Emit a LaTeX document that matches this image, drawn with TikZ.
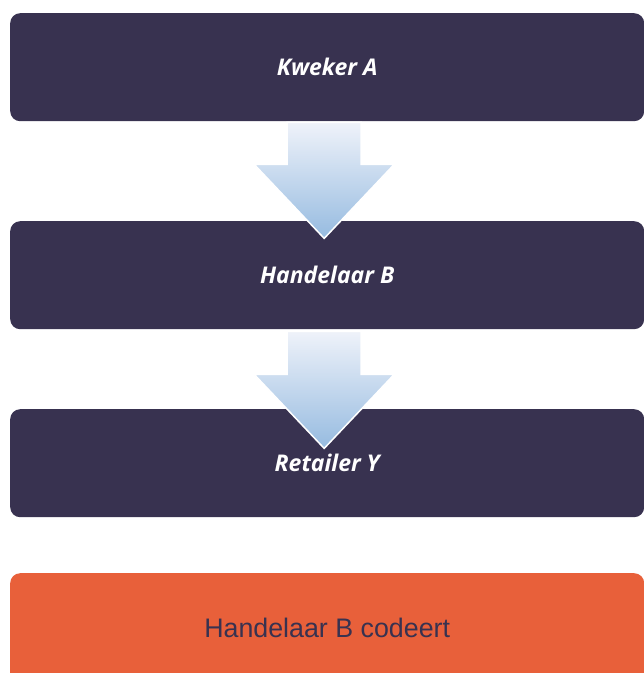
\documentclass[tikz,border=0pt]{standalone}
\usepackage{fontspec}
\setmainfont{Open Sans}
\newfontfamily\helv{Liberation Sans}
\usetikzlibrary{positioning,calc}

\definecolor{navy}{HTML}{383250}
\definecolor{oranje}{HTML}{E8603A}
\definecolor{lichtblauw}{HTML}{96BBE0}
\definecolor{bleek}{HTML}{F0F3FA}

\tikzset{
  stap/.style={fill=navy, rounded corners=10pt, minimum width=634pt, minimum height=108pt,
    inner sep=0pt, anchor=north west, text=white,
    font=\fontsize{23}{27}\selectfont\bfseries\itshape},
  code/.style={stap, fill=oranje, minimum height=110pt, text=navy,
    font=\helv\fontsize{26.8}{32}\selectfont},
  pijl/.style={draw=white, line width=1.5pt, top color=bleek, bottom color=lichtblauw}
}

\begin{document}
\begin{tikzpicture}[x=1pt,y=1pt]
\useasboundingbox (0,0) rectangle (644,-673);

\node[stap] (kweker) at (10,-13) {Kweker A};
\node[stap] (handelaar) at (10,-221) {Handelaar B};
\node[stap] (retailer) at (10,-409) {Retailer Y};
\node[code] (codeert) at (10,-573) {Handelaar B codeert};

% pijlen
\path[pijl] (kweker.south) ++(-40,-1) -- ++(0,-42) -- ++(-33,0) -- ++(70,-74)
  -- ++(70,74) -- ++(-33,0) -- ++(0,42) -- cycle;
\path[pijl] (handelaar.south) ++(-40,-2) -- ++(0,-43) -- ++(-33,0) -- ++(70,-74)
  -- ++(70,74) -- ++(-33,0) -- ++(0,43) -- cycle;

\end{tikzpicture}
\end{document}
